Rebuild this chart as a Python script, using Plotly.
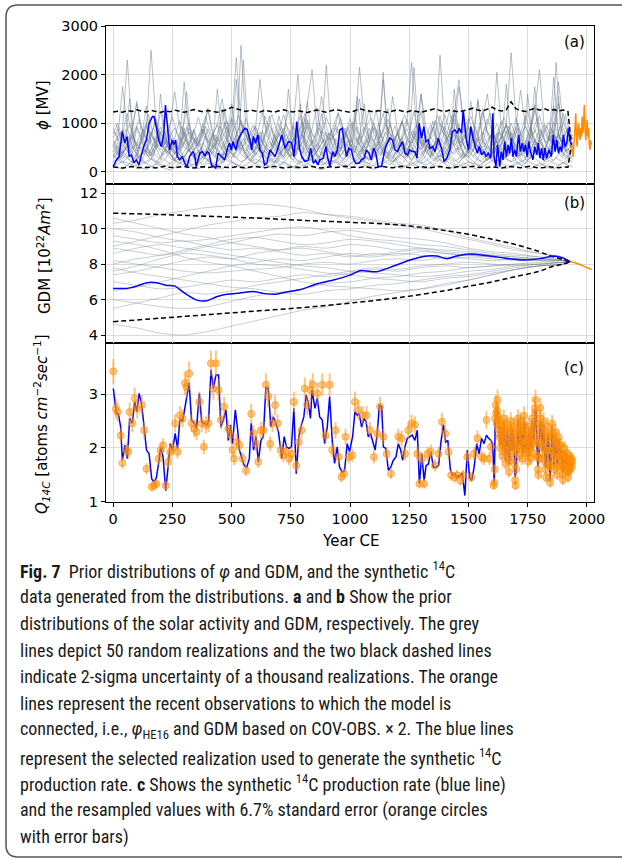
import plotly.graph_objects as go

# ---------------- data ----------------
TICK_YEARS = [0, 250, 500, 750, 1000, 1250, 1500, 1750, 2000]
GRID_STEP_A = 20          # year step of grey realizations in panel (a)
GRID_OFFSET_A2 = 10       # second group of grey realizations starts 10 years later

# panel (a): selected realization (blue)
A_BLUE_YEAR = [0, 14, 25, 39, 49, 59, 68, 77, 88, 98, 109, 119, 129, 141, 152, 166, 173, 183, 194, 204,
               214, 221, 229, 239, 249, 256, 264, 271, 281, 292, 302, 312, 323, 337, 344, 351, 366, 377,
               387, 397, 405, 415, 433, 443, 457, 471, 485, 492, 499, 506, 518, 528, 542, 556, 566, 578,
               585, 592, 602, 611, 620, 630, 639, 649, 662, 684, 698, 712, 726, 740, 754, 764, 775, 787,
               796, 810, 824, 834, 845, 855, 864, 873, 887, 898, 905, 915, 926, 936, 947, 957, 967, 978,
               985, 995, 1006, 1016, 1024, 1038, 1048, 1060, 1069, 1080, 1090, 1100, 1109, 1119, 1133,
               1147, 1157, 1168, 1179, 1190, 1201, 1210, 1222, 1232, 1243, 1252, 1263, 1274, 1283, 1292,
               1302, 1312, 1320, 1330, 1338, 1349, 1359, 1373, 1388, 1397, 1409, 1423, 1432, 1443, 1453,
               1461, 1471, 1478, 1490, 1500, 1510, 1518, 1528, 1538, 1546, 1556, 1566, 1574, 1584, 1594,
               1603, 1608, 1616, 1623, 1632, 1639, 1646, 1653, 1660, 1667, 1674, 1681, 1688, 1695, 1702,
               1712, 1719, 1727, 1734, 1741, 1748, 1755, 1762, 1772, 1780, 1788, 1795, 1802, 1809, 1816,
               1823, 1830, 1840, 1850, 1858, 1866, 1873, 1880, 1887, 1894, 1901, 1908, 1915, 1922, 1929, 1936]
A_BLUE_VAL = [109, 246, 314, 828, 595, 725, 314, 350, 185, 246, 144, 314, 520, 657, 1000, 1136, 1136, 897, 622, 520,
              794, 1376, 930, 452, 657, 560, 657, 314, 246, 314, 185, 109, 314, 417, 340, 109, 383, 417,
              330, 417, 383, 144, 75, 383, 314, 246, 520, 590, 450, 622, 450, 657, 794, 897, 870, 657,
              452, 725, 590, 760, 452, 383, 144, 180, 452, 314, 520, 760, 486, 622, 600, 314, 1034, 486,
              314, 212, 240, 486, 178, 240, 144, 246, 280, 520, 314, 109, 417, 314, 452, 862, 897, 520,
              314, 486, 452, 246, 178, 178, 246, 280, 452, 383, 246, 486, 383, 109, 109,
              452, 590, 692, 657, 452, 417, 520, 622, 383, 350, 452, 417, 417, 280, 1000,
              692, 931, 622, 657, 486, 520, 417, 692, 452, 212, 280, 486, 828, 862, 794,
              897, 794, 1273, 692, 452, 931, 725, 520, 383, 520, 350, 417, 314, 383, 280,
              1205, 314, 109, 554, 109, 417, 246, 622, 314, 554, 383, 692, 314, 452, 314,
              760, 417, 590, 417, 554, 314, 622, 417, 246, 520, 350, 590, 280, 486, 246,
              486, 280, 452, 314, 760, 417, 657, 383, 520, 417, 760, 520, 590, 897, 622, 554]

# panel (a): recent observations (orange)
A_OBS_YEAR = [1936, 1939, 1942, 1946, 1950, 1953, 1956, 1959, 1962, 1965, 1968, 1971, 1974, 1977,
              1980, 1983, 1986, 1989, 1992, 1995, 1998, 2001, 2004, 2007, 2010, 2013, 2016, 2019]
A_OBS_VAL = [554, 420, 314, 600, 900, 1205, 700, 520, 860, 1000, 760, 657, 900, 725,
             1136, 800, 1000, 1376, 900, 657, 850, 1068, 720, 900, 560, 452, 650, 560]

# panel (a): 2-sigma envelope (20-yr steps, then the connection year)
A_ENV_END_YEAR = 1935
A_ENV_END_VAL = 554
A_UPPER = [1230, 1245, 1225, 1260, 1240, 1275, 1250, 1230, 1265, 1240, 1220, 1255, 1235, 1270,
           1245, 1225, 1250, 1280, 1255, 1235, 1260, 1240, 1225, 1250, 1275, 1330, 1300, 1260,
           1240, 1270, 1250, 1230, 1265, 1245, 1225, 1255, 1275, 1250, 1230, 1260, 1240, 1220,
           1250, 1270, 1245, 1225, 1255, 1280, 1260, 1240, 1225, 1255, 1300, 1270, 1245, 1230,
           1260, 1240, 1220, 1250, 1275, 1250, 1230, 1265, 1245, 1225, 1250, 1280, 1300, 1260,
           1240, 1270, 1250, 1230, 1255, 1280, 1310, 1270, 1250, 1290, 1330, 1270, 1250, 1280,
           1440, 1300, 1260, 1240, 1280, 1310, 1270, 1300, 1260, 1280, 1250, 1270, 1240]
A_LOWER = [100, 90, 80, 95, 110, 85, 90, 105, 95, 80, 100, 115, 95, 85,
           100, 110, 90, 80, 95, 105, 90, 100, 115, 95, 85, 90, 105, 95,
           80, 100, 110, 95, 85, 100, 115, 95, 80, 90, 105, 95, 85, 100,
           110, 90, 80, 95, 105, 90, 100, 115, 95, 85, 90, 105, 95, 80,
           100, 110, 95, 85, 100, 115, 95, 80, 90, 105, 95, 85, 100, 110,
           90, 80, 95, 105, 90, 100, 115, 95, 85, 90, 105, 95, 80, 100,
           110, 95, 85, 100, 115, 95, 80, 90, 105, 95, 85, 100, 95]

# panel (a): grey random realizations, group 1 (years 0, 20, 40, ...)
A_GREY_1 = [420, 610, 380, 520, 900, 1450, 760, 540, 330, 480, 620, 710, 390, 260,
            350, 580, 820, 640, 410, 300, 520, 760, 980, 620, 450, 380, 290, 440,
            700, 560, 340, 480, 1150, 830, 520, 400, 310, 460, 690, 540, 380, 620,
            880, 1320, 720, 480, 350, 420, 610, 790, 560, 370, 280, 490, 720, 930,
            640, 450, 330, 560, 810, 1050, 700, 480, 360, 520, 740, 610, 420, 300,
            460, 680, 1240, 880, 540, 390, 470, 650, 820, 560, 380, 510, 730, 960,
            620, 430, 350, 580, 870, 1380, 760, 500, 420, 610, 790, 540, 430, 600]
A_GREY_2 = [210, 260, 340, 280, 190, 240, 380, 450, 320, 230, 180, 260, 410, 530,
            360, 250, 200, 290, 430, 350, 240, 170, 220, 330, 470, 390, 280, 210,
            260, 380, 520, 440, 300, 220, 180, 250, 360, 480, 340, 230, 190, 270,
            400, 560, 420, 290, 210, 240, 350, 470, 380, 260, 190, 230, 340, 450,
            580, 410, 280, 210, 260, 390, 500, 360, 250, 180, 220, 310, 440, 590,
            430, 300, 220, 270, 380, 460, 330, 240, 200, 290, 420, 540, 370, 260,
            210, 250, 360, 490, 640, 450, 310, 230, 280, 400, 520, 380, 270, 330]
A_GREY_3 = [500, 720, 1750, 900, 560, 430, 620, 880, 2500, 1100, 640, 480, 700, 560,
            450, 620, 900, 700, 520, 760, 1300, 820, 600, 470, 650, 920, 2350, 1000,
            600, 460, 640, 820, 600, 500, 700, 1150, 760, 560, 450, 620, 860, 1400,
            2100, 900, 600, 480, 680, 900, 650, 520, 740, 1050, 1500, 780, 560, 460,
            640, 880, 1300, 740, 540, 700, 980, 2250, 960, 620, 500, 720, 1050, 700,
            560, 780, 1200, 1900, 880, 620, 520, 740, 1100, 1600, 820, 600, 720, 1000,
            2450, 1150, 680, 540, 780, 1250, 2100, 900, 640, 800, 1400, 880, 660, 760]
A_GREY_4 = [650, 480, 370, 520, 760, 580, 430, 330, 460, 680, 920, 700, 520, 390,
            300, 420, 610, 850, 640, 470, 350, 480, 720, 560, 410, 520, 780, 1020,
            740, 530, 390, 300, 430, 620, 480, 360, 500, 740, 960, 690, 500, 380,
            290, 410, 580, 820, 600, 440, 330, 470, 680, 540, 400, 520, 770, 1000,
            720, 520, 380, 300, 440, 640, 890, 650, 470, 350, 490, 710, 560, 420,
            540, 800, 1080, 760, 540, 400, 310, 450, 660, 500, 380, 520, 760, 980,
            700, 510, 380, 290, 430, 630, 880, 640, 460, 560, 740, 520, 400, 480]
A_GREY_5 = [120, 160, 220, 180, 140, 110, 150, 210, 280, 200, 150, 120, 170, 240,
            190, 140, 110, 160, 230, 310, 220, 160, 130, 180, 250, 200, 150, 110,
            140, 200, 270, 210, 160, 120, 170, 230, 180, 130, 110, 150, 220, 300,
            230, 170, 130, 180, 240, 190, 140, 100, 150, 210, 280, 210, 160, 120,
            170, 230, 320, 240, 170, 130, 110, 160, 220, 180, 140, 190, 260, 340,
            250, 180, 130, 110, 150, 210, 170, 130, 180, 250, 330, 240, 170, 130,
            110, 150, 200, 270, 200, 150, 120, 170, 240, 180, 140, 190, 250, 200]
A_GREY_6 = [560, 700, 860, 640, 480, 600, 780, 1000, 760, 580, 450, 590, 740, 900,
            680, 520, 420, 560, 720, 880, 660, 500, 620, 800, 1040, 780, 590, 460,
            600, 760, 940, 700, 530, 430, 570, 730, 900, 680, 520, 640, 820, 1060,
            790, 600, 470, 610, 780, 960, 720, 540, 440, 580, 740, 910, 690, 530,
            650, 830, 1080, 800, 610, 480, 620, 790, 970, 730, 550, 450, 590, 750,
            920, 700, 540, 660, 840, 1100, 810, 620, 490, 630, 800, 980, 740, 560,
            460, 600, 760, 930, 710, 550, 670, 850, 1020, 760, 580, 700, 880, 650]
A_GREY_7 = [300, 540, 260, 410, 720, 350, 190, 460, 830, 520, 280, 640, 380, 220,
            510, 900, 470, 310, 250, 600, 420, 780, 340, 230, 560, 1080, 620, 360,
            280, 470, 690, 390, 210, 350, 760, 450, 300, 580, 940, 510, 270, 420,
            650, 330, 200, 480, 860, 540, 310, 260, 590, 400, 730, 350, 240, 520,
            990, 580, 330, 270, 460, 700, 380, 220, 410, 820, 490, 290, 610, 380,
            250, 540, 1200, 640, 370, 290, 450, 680, 400, 230, 370, 790, 470, 300,
            560, 920, 500, 280, 430, 660, 350, 210, 500, 870, 520, 320, 600, 440]
A_GREY_8 = [900, 640, 820, 1200, 760, 540, 700, 960, 620, 480, 780, 1150, 860, 600,
            460, 720, 1000, 700, 540, 880, 1300, 780, 560, 680, 920, 640, 500, 760,
            1100, 820, 580, 450, 690, 980, 730, 560, 840, 1250, 800, 590, 700, 940,
            660, 510, 770, 1120, 840, 600, 470, 700, 990, 720, 550, 860, 1280, 790,
            580, 690, 930, 650, 500, 760, 1080, 810, 590, 460, 680, 970, 720, 540,
            850, 1260, 780, 570, 680, 920, 640, 500, 750, 1090, 820, 590, 700, 950,
            680, 520, 790, 1150, 850, 610, 720, 980, 700, 540, 820, 1200, 760, 580]
A_GREY_9 = [380, 250, 180, 300, 520, 340, 220, 160, 260, 480, 1600, 700, 380, 240,
            170, 290, 460, 320, 210, 150, 240, 420, 300, 200, 330, 560, 1900, 620,
            340, 220, 160, 270, 440, 310, 200, 280, 500, 350, 230, 170, 300, 1450,
            560, 320, 210, 150, 250, 430, 300, 200, 330, 540, 360, 230, 160, 280,
            480, 2050, 640, 350, 220, 170, 290, 460, 310, 210, 340, 570, 380, 240,
            170, 300, 1700, 600, 330, 210, 160, 280, 470, 320, 220, 350, 590, 1800,
            620, 340, 220, 170, 300, 490, 330, 220, 360, 600, 1550, 540, 320, 260]
A_GREY_10 = [700, 880, 560, 420, 610, 940, 700, 500, 380, 560, 830, 620, 460, 700,
             1050, 760, 540, 410, 600, 880, 640, 470, 350, 520, 780, 1120, 820, 580,
             430, 640, 930, 680, 490, 370, 540, 800, 590, 440, 670, 990, 720, 520,
             390, 570, 840, 610, 450, 340, 500, 760, 1100, 800, 570, 420, 620, 900,
             650, 480, 360, 530, 790, 580, 430, 650, 960, 700, 510, 380, 560, 820,
             1180, 850, 600, 450, 660, 950, 690, 500, 370, 550, 810, 600, 440, 670,
             1000, 730, 530, 400, 580, 860, 620, 460, 700, 1020, 740, 540, 640, 760]
A_GREY_11 = [150, 90, 60, 130, 210, 140, 80, 50, 100, 170, 120, 70, 40, 90,
             160, 230, 150, 90, 60, 110, 180, 130, 80, 50, 120, 200, 140, 90,
             60, 100, 170, 250, 160, 100, 70, 130, 210, 150, 90, 60, 110, 180,
             120, 70, 40, 90, 160, 220, 150, 90, 60, 120, 190, 130, 80, 50,
             100, 170, 240, 160, 100, 70, 130, 200, 140, 90, 60, 110, 180, 260,
             170, 100, 70, 120, 190, 140, 80, 50, 100, 170, 230, 150, 90, 60,
             120, 200, 140, 90, 60, 110, 180, 130, 80, 60, 120, 190, 140, 100]
A_GREY_12 = [450, 350, 700, 560, 380, 900, 640, 420, 330, 600, 1250, 780, 480, 370,
             540, 820, 600, 400, 310, 560, 880, 620, 430, 340, 680, 1400, 820, 500,
             380, 560, 790, 580, 410, 320, 600, 980, 660, 450, 350, 520, 760, 560,
             400, 700, 1200, 740, 480, 360, 550, 830, 600, 420, 330, 580, 900, 640,
             440, 350, 720, 1550, 860, 520, 390, 570, 810, 590, 420, 330, 610, 1000,
             680, 460, 360, 530, 780, 570, 410, 720, 1300, 780, 500, 380, 560, 850,
             610, 430, 340, 590, 920, 650, 450, 360, 740, 1350, 800, 520, 620, 700]
A_GREY_13 = [260, 420, 330, 580, 410, 290, 700, 1350, 520, 340, 250, 460, 380, 610,
             470, 300, 520, 880, 430, 270, 360, 540, 1700, 690, 380, 280, 450, 620,
             350, 230, 480, 760, 520, 340, 610, 400, 260, 390, 900, 2000, 720, 420,
             300, 500, 360, 250, 430, 680, 470, 320, 560, 1250, 560, 350, 270, 410,
             600, 390, 280, 470, 820, 460, 300, 380, 550, 1600, 640, 370, 260, 440,
             350, 520, 780, 430, 290, 360, 640, 1450, 620, 380, 300, 470, 350, 560,
             820, 450, 310, 420, 690, 1750, 700, 400, 290, 480, 620, 380, 300, 450]
A_GREY_14 = [780, 1000, 650, 540, 820, 1400, 900, 620, 760, 1050, 720, 580, 900, 1650,
             950, 680, 560, 800, 1120, 760, 600, 740, 980, 1500, 880, 640, 720, 1060,
             780, 560, 820, 1900, 1000, 700, 600, 850, 1180, 800, 620, 760, 1020, 720,
             580, 860, 1550, 920, 660, 780, 1100, 760, 600, 880, 2150, 1050, 720, 620,
             840, 1200, 820, 640, 760, 1000, 720, 590, 880, 1600, 940, 690, 800, 1150,
             780, 620, 900, 1750, 1000, 720, 640, 860, 1220, 830, 660, 780, 1050, 740,
             600, 900, 1680, 960, 700, 820, 1160, 800, 640, 920, 1850, 1020, 760, 820]
A_GREY_15 = [330, 240, 420, 300, 200, 350, 520, 380, 260, 190, 310, 470, 340, 230,
             400, 620, 430, 290, 210, 330, 500, 360, 250, 180, 290, 450, 680, 460,
             310, 220, 340, 510, 370, 260, 200, 320, 480, 350, 240, 420, 640, 440,
             300, 210, 330, 500, 360, 250, 190, 300, 460, 700, 470, 320, 230, 350,
             520, 380, 270, 200, 320, 490, 360, 250, 410, 630, 430, 300, 220, 340,
             510, 370, 260, 190, 310, 470, 720, 480, 330, 240, 360, 530, 390, 270,
             210, 330, 500, 370, 260, 430, 650, 450, 310, 230, 350, 520, 380, 300]
A_GREY_16 = [560, 380, 900, 2300, 850, 480, 620, 400, 720, 1100, 600, 420, 760, 380,
             540, 1850, 760, 450, 600, 980, 520, 380, 700, 1300, 640, 430, 560, 2600,
             900, 500, 640, 420, 780, 1150, 620, 440, 580, 1700, 720, 460, 620, 1000,
             560, 400, 740, 2200, 820, 480, 600, 900, 540, 400, 700, 1400, 660, 440,
             580, 1900, 780, 470, 620, 1050, 580, 410, 740, 1250, 640, 450, 600, 2400,
             860, 500, 640, 980, 560, 420, 720, 1500, 680, 460, 600, 2050, 800, 480,
             620, 1100, 600, 430, 760, 1350, 660, 460, 620, 1950, 780, 500, 640, 700]

# panel (a): grey random realizations, group 2 (years 10, 30, 50, ...)
A_GREY_17 = [480, 300, 650, 420, 260, 540, 880, 460, 320, 720, 510, 350, 240, 580,
             940, 600, 380, 270, 490, 760, 420, 300, 620, 1020, 560, 360, 450, 690,
             400, 280, 530, 850, 500, 330, 260, 470, 780, 540, 350, 640, 1100, 620,
             390, 290, 510, 800, 480, 320, 560, 920, 580, 370, 270, 450, 730, 470,
             330, 600, 990, 560, 360, 280, 500, 840, 510, 340, 620, 1050, 600, 380,
             290, 470, 760, 460, 320, 580, 930, 550, 360, 260, 480, 820, 500, 340,
             640, 1000, 590, 380, 300, 520, 860, 520, 350, 610, 960, 560, 400]
A_GREY_18 = [180, 260, 150, 110, 210, 330, 220, 140, 100, 190, 280, 200, 130, 240,
             360, 250, 160, 110, 200, 300, 210, 140, 260, 390, 270, 170, 120, 220,
             320, 230, 150, 100, 180, 280, 200, 130, 250, 370, 260, 170, 120, 210,
             310, 220, 150, 270, 400, 280, 180, 120, 200, 300, 220, 140, 100, 190,
             290, 210, 140, 260, 380, 270, 170, 120, 220, 330, 230, 150, 110, 200,
             300, 210, 140, 250, 370, 260, 170, 120, 210, 310, 220, 150, 280, 410,
             290, 180, 130, 230, 340, 240, 160, 110, 200, 300, 220, 160, 240]
A_GREY_19 = [820, 560, 700, 1000, 640, 480, 760, 1180, 720, 520, 640, 900, 600, 460,
             780, 1250, 760, 540, 660, 940, 620, 470, 800, 1300, 780, 560, 680, 960,
             640, 490, 820, 1220, 740, 540, 660, 920, 610, 460, 780, 1150, 720, 520,
             640, 900, 600, 450, 760, 1200, 740, 530, 650, 930, 620, 470, 800, 1280,
             770, 550, 670, 950, 630, 480, 810, 1240, 750, 540, 660, 920, 610, 460,
             780, 1160, 720, 520, 640, 910, 600, 450, 770, 1210, 740, 530, 650, 940,
             620, 470, 790, 1260, 760, 550, 670, 960, 640, 490, 820, 1180, 720]
A_GREY_20 = [400, 260, 520, 1500, 620, 340, 460, 300, 580, 880, 700, 380, 500, 320,
             600, 1650, 660, 360, 480, 310, 560, 760, 600, 350, 470, 300, 540, 2300,
             760, 400, 520, 330, 610, 900, 680, 370, 490, 310, 570, 1400, 620, 350,
             470, 300, 550, 780, 720, 390, 510, 320, 590, 1550, 650, 360, 480, 310,
             560, 820, 610, 350, 470, 300, 540, 2150, 740, 400, 520, 330, 600, 950,
             670, 370, 490, 310, 570, 1450, 630, 360, 480, 300, 550, 800, 710, 390,
             500, 320, 580, 1600, 660, 360, 480, 310, 560, 2250, 750, 420, 520]
A_GREY_21 = [520, 380, 450, 640, 430, 300, 390, 560, 720, 480, 340, 420, 600, 410,
             290, 370, 540, 700, 470, 330, 410, 590, 400, 280, 360, 530, 690, 460,
             320, 400, 580, 390, 270, 350, 520, 680, 450, 310, 390, 570, 380, 260,
             340, 510, 670, 440, 300, 380, 560, 370, 250, 330, 500, 660, 430, 290,
             370, 550, 360, 240, 320, 490, 650, 420, 280, 360, 540, 350, 230, 310,
             480, 640, 410, 270, 350, 530, 340, 220, 300, 470, 630, 400, 260, 340,
             520, 330, 210, 290, 460, 620, 390, 250, 330, 510, 320, 260, 380]
A_GREY_22 = [1000, 760, 880, 640, 820, 1080, 780, 600, 900, 700, 560, 840, 1120, 800,
             620, 920, 720, 580, 860, 1140, 820, 640, 940, 740, 600, 880, 1160, 840,
             660, 960, 760, 620, 900, 1180, 860, 680, 980, 780, 640, 920, 1200, 880,
             700, 1000, 800, 660, 940, 1220, 900, 720, 1020, 820, 680, 960, 1100, 860,
             700, 980, 780, 640, 920, 1180, 860, 680, 960, 760, 620, 900, 1160, 840,
             660, 940, 740, 600, 880, 1140, 820, 640, 920, 720, 580, 860, 1120, 800,
             620, 900, 700, 560, 840, 1100, 780, 600, 880, 680, 540, 820, 1000]

# panel (b): GDM
B_GREY_YEAR = [0, 100, 200, 300, 400, 500, 600, 700, 800, 900, 1000, 1100, 1200, 1300, 1400,
               1500, 1600, 1700, 1800, 1900, 1930]
B_GREY_1 = [10.3, 10.5, 10.8, 11.0, 11.2, 11.3, 11.4, 11.3, 11.1, 10.8, 10.6, 10.4, 10.2, 10.0, 9.7, 9.4, 9.1, 8.8, 8.6, 8.4, 8.14]
B_GREY_2 = [9.6, 9.4, 9.2, 9.3, 9.0, 8.8, 8.9, 8.7, 8.5, 8.6, 8.4, 8.6, 8.5, 8.7, 8.6, 8.5, 8.4, 8.3, 8.3, 8.2, 8.14]
B_GREY_3 = [8.2, 8.0, 7.8, 7.6, 7.5, 7.6, 7.7, 7.8, 8.0, 8.1, 8.0, 8.2, 8.3, 8.2, 8.4, 8.3, 8.2, 8.3, 8.2, 8.2, 8.14]
B_GREY_4 = [6.0, 5.8, 5.6, 5.5, 5.6, 5.9, 6.2, 6.4, 6.6, 6.9, 7.0, 7.2, 7.3, 7.5, 7.6, 7.8, 7.9, 8.0, 8.0, 8.1, 8.14]
B_GREY_5 = [4.6, 4.4, 4.1, 4.0, 4.2, 4.5, 4.8, 5.1, 5.4, 5.6, 5.9, 6.2, 6.4, 6.6, 6.9, 7.1, 7.4, 7.7, 7.9, 8.0, 8.14]
B_GREY_6 = [7.4, 7.6, 7.9, 8.2, 8.4, 8.3, 8.6, 8.8, 9.0, 8.9, 9.1, 9.0, 8.8, 8.9, 8.7, 8.6, 8.5, 8.4, 8.3, 8.2, 8.14]
B_GREY_7 = [9.0, 9.3, 9.6, 9.9, 10.2, 10.4, 10.6, 10.7, 10.9, 10.8, 10.7, 10.5, 10.3, 10.2, 9.9, 9.5, 9.2, 8.9, 8.6, 8.3, 8.14]
B_GREY_8 = [7.0, 6.8, 6.6, 6.7, 6.9, 7.1, 7.0, 7.2, 7.4, 7.3, 7.5, 7.7, 7.6, 7.8, 7.9, 7.8, 7.9, 8.0, 8.1, 8.1, 8.14]
B_GREY_9 = [8.6, 8.9, 9.1, 8.9, 8.7, 8.5, 8.3, 8.1, 7.9, 7.8, 7.6, 7.5, 7.4, 7.3, 7.4, 7.6, 7.7, 7.9, 8.0, 8.1, 8.14]
B_GREY_10 = [10.0, 9.8, 9.5, 9.3, 9.4, 9.6, 9.8, 10.0, 10.1, 9.9, 9.6, 9.4, 9.3, 9.1, 9.0, 8.8, 8.6, 8.5, 8.4, 8.2, 8.14]
B_GREY_11 = [5.5, 5.8, 6.1, 6.4, 6.3, 6.5, 6.8, 7.0, 7.2, 7.4, 7.6, 7.8, 7.7, 7.9, 8.0, 8.1, 8.0, 7.9, 8.0, 8.1, 8.14]
B_GREY_12 = [7.8, 7.5, 7.3, 7.1, 6.9, 6.7, 6.6, 6.4, 6.3, 6.5, 6.6, 6.8, 6.9, 7.1, 7.3, 7.4, 7.6, 7.8, 7.9, 8.0, 8.14]
B_GREY_13 = [8.9, 8.7, 8.5, 8.7, 9.0, 9.2, 9.5, 9.7, 9.6, 9.8, 9.9, 9.7, 9.5, 9.4, 9.2, 8.9, 8.7, 8.6, 8.4, 8.3, 8.14]
B_GREY_14 = [6.5, 6.7, 7.0, 7.3, 7.6, 7.9, 8.1, 8.3, 8.2, 8.4, 8.6, 8.5, 8.7, 8.8, 8.6, 8.5, 8.4, 8.3, 8.2, 8.2, 8.14]
B_GREY_15 = [10.6, 10.3, 10.0, 9.7, 9.5, 9.2, 9.0, 8.8, 8.9, 8.7, 8.5, 8.4, 8.6, 8.5, 8.3, 8.4, 8.3, 8.2, 8.2, 8.1, 8.14]
B_GREY_16 = [7.6, 7.9, 8.3, 8.6, 8.5, 8.3, 8.0, 7.9, 7.7, 7.5, 7.4, 7.2, 7.1, 7.0, 7.2, 7.3, 7.5, 7.7, 7.9, 8.0, 8.14]
B_GREY_17 = [9.3, 9.1, 8.8, 8.4, 8.1, 7.9, 7.6, 7.3, 7.0, 6.8, 6.7, 6.6, 6.5, 6.6, 6.8, 7.1, 7.4, 7.7, 7.9, 8.0, 8.14]
B_GREY_18 = [8.0, 8.3, 8.5, 8.8, 9.1, 9.4, 9.5, 9.3, 9.1, 9.2, 9.4, 9.3, 9.1, 8.9, 8.8, 8.7, 8.5, 8.4, 8.3, 8.2, 8.14]

B_ENV_YEAR = [0, 200, 400, 600, 800, 1000, 1200, 1400, 1500, 1600, 1700, 1800, 1850, 1900, 1930]
B_UPPER = [10.87, 10.8, 10.7, 10.6, 10.47, 10.36, 10.22, 9.9, 9.68, 9.4, 9.1, 8.7, 8.45, 8.25, 8.14]
B_LOWER = [4.75, 4.95, 5.15, 5.35, 5.55, 5.8, 6.1, 6.5, 6.75, 7.0, 7.3, 7.6, 7.85, 8.0, 8.14]

B_BLUE_YEAR = [0, 58, 100, 142, 184, 226, 261, 303, 353, 395, 437, 479, 535, 591, 633, 690, 732, 788,
               859, 930, 1000, 1043, 1113, 1184, 1254, 1324, 1366, 1409, 1451, 1507, 1563, 1634, 1690,
               1733, 1803, 1859, 1901, 1930]
B_BLUE_VAL = [6.63, 6.63, 6.76, 6.95, 6.95, 6.8, 6.76, 6.35, 5.97, 5.93, 6.16, 6.3, 6.37, 6.46, 6.35, 6.3,
              6.43, 6.55, 6.88, 7.1, 7.38, 7.63, 7.57, 7.89, 8.23, 8.46, 8.46, 8.31, 8.46, 8.57, 8.5,
              8.38, 8.27, 8.23, 8.31, 8.46, 8.34, 8.14]
B_OBS_YEAR = [1930, 1950, 1970, 1990, 2010, 2020]
B_OBS_VAL = [8.14, 8.08, 7.98, 7.86, 7.75, 7.70]

# panel (c): synthetic 14C production rate
C_BLUE_YEAR = [1, 9, 14, 22, 32, 39, 50, 60, 70, 81, 91, 100, 110, 121, 131, 141, 152, 163, 173, 183,
               194, 201, 211, 222, 232, 241, 251, 262, 272, 282, 293, 303, 310, 321, 331, 343, 352, 364,
               374, 385, 395, 403, 413, 423, 434, 445, 455, 465, 476, 486, 496, 504, 516, 526, 533, 542,
               554, 564, 575, 583, 593, 603, 613, 624, 634, 645, 655, 666, 676, 687, 698, 712, 722, 732,
               742, 753, 763, 773, 784, 795, 805, 815, 823, 833, 840, 852, 862, 872, 883, 893, 904, 914,
               925, 935, 946, 956, 967, 977, 988, 998, 1011, 1021, 1031, 1039, 1049, 1059, 1068, 1077,
               1087, 1096, 1106, 1115, 1124, 1134, 1141, 1151, 1162, 1172, 1183, 1194, 1204, 1214, 1222,
               1232, 1242, 1253, 1263, 1274, 1284, 1293, 1303, 1313, 1321, 1331, 1341, 1352, 1362, 1374,
               1383, 1394, 1404, 1413, 1424, 1434, 1443, 1452, 1462, 1474, 1485, 1495, 1505, 1514, 1524,
               1535, 1545, 1555, 1566, 1576, 1585, 1595, 1602, 1606]
C_BLUE_VAL = [3.11, 2.83, 2.64, 2.64, 2.39, 1.77, 2.05, 1.8, 2.55, 2.46, 2.86, 2.68, 3.02, 2.8, 2.39, 1.96,
              1.89, 1.42, 1.36, 1.45, 1.77, 2.02, 1.83, 1.2, 1.64, 2.08, 1.96, 2.27, 1.99, 2.55, 2.49, 2.77,
              2.89, 3.21, 2.52, 2.46, 2.36, 3.02, 2.49, 2.46, 2.43, 2.49, 3.46, 3.11, 3.36, 3.36, 2.39,
              2.52, 2.71, 2.14, 2.43, 2.08, 2.71, 2.33, 1.96, 1.83, 1.67, 1.64, 1.8, 2.46, 1.96, 2.21,
              1.74, 2.14, 2.21, 3.14, 3.11, 2.39, 2.58, 2.46, 2.3, 1.8, 2.21, 2.02, 1.99, 2.02, 2.74,
              1.52, 2.21, 2.43, 2.58, 2.99, 2.86, 2.55, 3.08, 2.74, 2.93, 2.58, 2.52, 2.08, 2.39, 2.96,
              2.14, 1.71, 2.02, 1.64, 1.55, 1.57, 2.08, 1.93, 2.21, 2.68, 2.61, 2.64, 2.39, 2.55, 2.49,
              2.21, 2.27, 2.12, 1.96, 2.27, 2.8, 2.77, 2.02, 1.99, 1.58, 1.64, 1.77, 1.83, 2.08, 1.96,
              1.77, 2.02, 2.18, 2.21, 2.24, 2.14, 2.33, 1.33, 1.89, 1.39, 1.67, 1.7, 1.93, 1.64, 1.64,
              1.67, 2.08, 2.43, 2.11, 2.14, 1.58, 1.49, 1.52, 1.45, 1.48, 1.52, 1.11, 1.96, 1.45, 1.39,
              1.64, 2.08, 1.89, 2.18, 2.08, 2.24, 2.18, 2.14, 2.08, 1.39]
C_OBS_YEAR = [1, 12, 19, 32, 39, 56, 64, 70, 81, 91, 102, 121, 131, 141, 163, 173, 183, 192, 201, 211,
              222, 232, 241, 251, 262, 272, 282, 293, 303, 310, 321, 331, 343, 352, 364, 374, 383, 392,
              403, 413, 423, 434, 445, 455, 469, 486, 496, 504, 511, 522, 533, 547, 561, 583, 593, 603,
              613, 624, 634, 645, 655, 663, 673, 684, 694, 708, 718, 729, 743, 754, 763, 773, 784, 795,
              809, 819, 833, 843, 862, 883, 897, 914, 925, 939, 953, 964, 974, 981, 995, 1010, 1021,
              1035, 1053, 1070, 1084, 1101, 1115, 1127, 1141, 1155, 1173, 1204, 1218, 1232, 1246, 1260,
              1274, 1284, 1293, 1303, 1313, 1327, 1341, 1359, 1374, 1388, 1402, 1416, 1427, 1441, 1452,
              1466, 1477, 1495, 1512, 1524, 1538, 1555, 1566, 1576, 1588, 1595, 1606]
C_OBS_VAL = [3.43, 2.73, 2.67, 2.23, 1.72, 1.96, 1.93, 2.67, 2.46, 2.93, 2.73, 2.8, 2.33, 1.61, 1.27, 1.3,
             1.33, 1.8, 1.96, 2.05, 1.3, 1.74, 1.93, 1.99, 2.46, 1.93, 2.61, 2.55, 3.21, 3.14, 3.39, 2.46,
             2.36, 2.3, 2.86, 2.46, 2.02, 2.43, 2.46, 3.58, 3.11, 3.58, 3.08, 2.52, 2.77, 2.36, 2.24,
             1.96, 1.8, 2.11, 2.05, 1.8, 1.58, 2.64, 2.27, 2.08, 1.74, 2.33, 2.33, 3.18, 2.96, 2.08,
             2.46, 2.8, 2.46, 1.96, 1.86, 1.93, 1.8, 1.89, 2.86, 1.67, 2.11, 2.33, 3.11, 2.8, 3.08, 3.18,
             3.02, 3.18, 2.23, 3.18, 1.96, 2.33, 1.83, 1.46, 1.52, 2.21, 1.83, 1.86, 2.86, 2.71, 2.61,
             2.61, 2.33, 1.83, 2.27, 2.77, 2.21, 1.89, 1.52, 2.21, 2.18, 1.89, 2.33, 2.46, 2.43, 1.89,
             1.33, 1.8, 1.33, 1.89, 1.93, 1.67, 1.89, 2.49, 2.27, 1.93, 1.49, 1.45, 1.49, 1.39, 1.49,
             1.83, 1.45, 1.89, 2.18, 1.83, 1.8, 2.52, 1.8, 2.02, 1.3]

# panel (c): dense recent part (1609-1939)
C_DENSE_START = 1609
C_DENSE_BLUE_STEP = 4
C_DENSE_OBS_STEP = 2
C_DENSE_BLUE = [1.35, 2.50, 2.65, 2.75, 2.55, 2.45, 2.05,
                2.40, 2.15, 2.00, 2.50, 2.20, 1.75, 2.15,
                2.35, 1.85, 1.70, 2.25, 2.40, 1.95, 2.35,
                2.05, 1.45, 1.55, 2.15, 2.50, 2.10, 2.05,
                2.45, 2.10, 1.90, 2.40, 2.45, 1.95, 2.25,
                2.00, 1.85, 2.35, 2.05, 2.00, 2.50, 2.15,
                2.15, 2.70, 2.70, 2.10, 1.65, 1.75, 2.40,
                2.50, 2.10, 1.95, 2.45, 2.15, 1.65, 1.65,
                2.15, 2.25, 1.75, 1.40, 1.90, 2.40, 2.10,
                1.65, 2.05, 2.20, 1.70, 1.70, 2.15, 1.90,
                1.80, 1.95, 1.55, 1.60, 1.95, 1.70, 1.70,
                1.75, 1.50, 1.65, 1.80, 1.65, 1.70]
C_DENSE_OBS = [1.35, 1.60, 2.55, 2.80, 2.65, 2.45, 2.70, 2.90, 2.60, 2.35, 2.50, 2.20, 2.00, 2.25,
               2.45, 2.30, 2.10, 1.85, 2.05, 2.35, 2.55, 2.40, 2.15, 1.90, 1.70, 1.95, 2.20, 2.45,
               2.30, 2.05, 1.80, 1.55, 1.75, 2.00, 2.30, 2.50, 2.35, 2.10, 1.90, 2.15, 2.40, 2.25,
               2.00, 1.70, 1.40, 1.30, 1.60, 1.95, 2.20, 2.45, 2.55, 2.30, 2.05, 1.85, 2.10, 2.35,
               2.50, 2.30, 2.05, 1.80, 1.95, 2.20, 2.45, 2.60, 2.40, 2.15, 1.90, 2.10, 2.30, 2.15,
               1.95, 1.75, 1.90, 2.15, 2.40, 2.25, 2.00, 1.80, 2.05, 2.30, 2.55, 2.35, 2.10, 1.90,
               2.20, 2.50, 2.75, 2.90, 2.65, 2.40, 2.15, 1.85, 1.60, 1.50, 1.80, 2.10, 2.45, 2.75,
               2.55, 2.30, 2.05, 1.80, 2.00, 2.25, 2.50, 2.35, 2.10, 1.85, 1.60, 1.45, 1.70, 1.95,
               2.20, 2.40, 2.20, 1.95, 1.70, 1.45, 1.35, 1.65, 1.95, 2.25, 2.45, 2.30, 2.05, 1.80,
               1.60, 1.85, 2.10, 2.30, 2.15, 1.90, 1.65, 1.50, 1.75, 2.00, 2.20, 2.05, 1.85, 1.65,
               1.85, 2.05, 1.90, 1.70, 1.50, 1.40, 1.65, 1.85, 2.00, 1.85, 1.65, 1.55, 1.75, 1.90,
               1.80, 1.60, 1.45, 1.55, 1.70, 1.85, 1.75, 1.60, 1.70, 1.80, 1.65, 1.75]
OBS_ERR_PERCENT = 6.7

CAPTION_LINES = [
    "<b>Fig. 7</b>\u2002Prior distributions of <i>φ</i> and GDM, and the synthetic <sup>14</sup>C",
    "data generated from the distributions. <b>a</b> and <b>b</b> Show the prior",
    "distributions of the solar activity and GDM, respectively. The grey",
    "lines depict 50 random realizations and the two black dashed lines",
    "indicate 2-sigma uncertainty of a thousand realizations. The orange",
    "lines represent the recent observations to which the model is",
    "connected, i.e., <i>φ</i><sub>HE16</sub> and GDM based on COV-OBS. × 2. The blue lines",
    "represent the selected realization used to generate the synthetic <sup>14</sup>C",
    "production rate. <b>c</b> Shows the synthetic <sup>14</sup>C production rate (blue line)",
    "and the resampled values with 6.7% standard error (orange circles",
    "with error bars)",
]

# ---------------- figure ----------------
W, H = 622, 859
ML, MR, MT, MB = 106, 28, 26, 357
PW, PH = W - ML - MR, H - MT - MB


def px_x(p):
    return (p - ML) / PW


def px_y(p):
    return (H - MB - p) / PH


FONT = "DejaVu Sans"
GREY = "rgba(112,128,144,0.5)"
GREY_B = "rgba(112,128,144,0.38)"
BLUE = "#0000ff"
ORANGE = "#ff8c00"
ORANGE_A = "rgba(255,140,0,0.5)"
DASH = "5px,3px"

fig = go.Figure()

# panel (a) -> xaxis3 / yaxis3
for s in [A_GREY_1, A_GREY_2, A_GREY_3, A_GREY_4, A_GREY_5, A_GREY_6, A_GREY_7, A_GREY_8,
          A_GREY_9, A_GREY_10, A_GREY_11, A_GREY_12, A_GREY_13, A_GREY_14, A_GREY_15, A_GREY_16]:
    fig.add_trace(go.Scatter(x=[i * GRID_STEP_A for i in range(len(s))], y=s, mode="lines",
                             line=dict(color=GREY, width=1), xaxis="x3", yaxis="y3",
                             hoverinfo="skip"))
for s in [A_GREY_17, A_GREY_18, A_GREY_19, A_GREY_20, A_GREY_21, A_GREY_22]:
    fig.add_trace(go.Scatter(x=[GRID_OFFSET_A2 + i * GRID_STEP_A for i in range(len(s))], y=s,
                             mode="lines", line=dict(color=GREY, width=1), xaxis="x3", yaxis="y3",
                             hoverinfo="skip"))
for s in [A_UPPER, A_LOWER]:
    fig.add_trace(go.Scatter(x=[i * GRID_STEP_A for i in range(len(s))] + [A_ENV_END_YEAR],
                             y=s + [A_ENV_END_VAL], mode="lines",
                             line=dict(color="black", width=1.5, dash=DASH), xaxis="x3", yaxis="y3"))
fig.add_trace(go.Scatter(x=A_OBS_YEAR, y=A_OBS_VAL, mode="lines",
                         line=dict(color=ORANGE, width=1.5), xaxis="x3", yaxis="y3"))
fig.add_trace(go.Scatter(x=A_BLUE_YEAR, y=A_BLUE_VAL, mode="lines",
                         line=dict(color=BLUE, width=1.5), xaxis="x3", yaxis="y3"))

# panel (b) -> xaxis2 / yaxis2
for s in [B_GREY_1, B_GREY_2, B_GREY_3, B_GREY_4, B_GREY_5, B_GREY_6, B_GREY_7, B_GREY_8, B_GREY_9,
          B_GREY_10, B_GREY_11, B_GREY_12, B_GREY_13, B_GREY_14, B_GREY_15, B_GREY_16, B_GREY_17,
          B_GREY_18]:
    fig.add_trace(go.Scatter(x=B_GREY_YEAR, y=s, mode="lines",
                             line=dict(color=GREY_B, width=1, shape="spline", smoothing=0.8),
                             xaxis="x2", yaxis="y2"))
for s in [B_UPPER, B_LOWER]:
    fig.add_trace(go.Scatter(x=B_ENV_YEAR, y=s, mode="lines",
                             line=dict(color="black", width=1.5, dash=DASH, shape="spline"),
                             xaxis="x2", yaxis="y2"))
fig.add_trace(go.Scatter(x=B_OBS_YEAR, y=B_OBS_VAL, mode="lines",
                         line=dict(color=ORANGE, width=1.5, shape="spline"), xaxis="x2", yaxis="y2"))
fig.add_trace(go.Scatter(x=B_BLUE_YEAR, y=B_BLUE_VAL, mode="lines",
                         line=dict(color=BLUE, width=1.5, shape="spline", smoothing=0.6),
                         xaxis="x2", yaxis="y2"))

# panel (c) -> xaxis / yaxis
dense_blue_x = [C_DENSE_START + i * C_DENSE_BLUE_STEP for i in range(len(C_DENSE_BLUE))]
dense_obs_x = [C_DENSE_START + i * C_DENSE_OBS_STEP for i in range(len(C_DENSE_OBS))]
fig.add_trace(go.Scatter(x=C_BLUE_YEAR + dense_blue_x, y=C_BLUE_VAL + C_DENSE_BLUE, mode="lines",
                         line=dict(color=BLUE, width=1.5), xaxis="x", yaxis="y"))
fig.add_trace(go.Scatter(x=C_OBS_YEAR + dense_obs_x, y=C_OBS_VAL + C_DENSE_OBS, mode="markers",
                         marker=dict(size=7, color="rgba(255,140,0,0.45)",
                                     line=dict(color="rgba(255,140,0,0.6)", width=1)),
                         error_y=dict(type="percent", value=OBS_ERR_PERCENT, color=ORANGE_A,
                                      thickness=2, width=0),
                         xaxis="x", yaxis="y"))

XR = [-30, 2030]
frame = dict(showline=True, linecolor="black", linewidth=1, mirror=True, zeroline=False,
             showgrid=True, gridcolor="#dcdcdc", gridwidth=1)
tickfont = dict(family=FONT, size=14.5, color="black")

dc = [0, (H - MB - 343) / PH]
db = [dc[1], (H - MB - 184) / PH]
da = [db[1], 1]

fig.update_layout(
    width=W, height=H, margin=dict(l=ML, r=MR, t=MT, b=MB, pad=0),
    paper_bgcolor="white", plot_bgcolor="white", showlegend=False,
    font=dict(family=FONT, size=15, color="black"),
    xaxis=dict(range=XR, domain=[0, 1], anchor="y", tickvals=TICK_YEARS, ticks="outside",
               ticklen=4, tickcolor="black", tickfont=tickfont, **frame),
    xaxis2=dict(range=XR, domain=[0, 1], anchor="y2", tick0=0, dtick=250, showticklabels=False,
                matches="x", **frame),
    xaxis3=dict(range=XR, domain=[0, 1], anchor="y3", tick0=0, dtick=250, showticklabels=False,
                matches="x", **frame),
    yaxis=dict(range=[0.99, 3.96], domain=dc, anchor="x", tickvals=[1, 2, 3], ticks="outside",
               ticklen=4, tickcolor="black", tickfont=tickfont, **frame),
    yaxis2=dict(range=[3.55, 12.52], domain=db, anchor="x2", tickvals=[4, 6, 8, 10, 12],
                ticks="outside", ticklen=4, tickcolor="black", tickfont=tickfont, **frame),
    yaxis3=dict(range=[-250, 3000], domain=da, anchor="x3", tickvals=[0, 1000, 2000, 3000],
                ticks="outside", ticklen=4, tickcolor="black", tickfont=tickfont, **frame),
)

lab_font = dict(family=FONT, size=15, color="black")
ann = []
# axis titles
ann.append(dict(text="Year CE", x=0.5, y=px_y(541), xref="paper", yref="paper", showarrow=False,
                xanchor="center", yanchor="middle", font=lab_font))
ann.append(dict(text="<i>ϕ</i> [MV]", x=px_x(43), y=px_y(105), xref="paper", yref="paper",
                showarrow=False, textangle=-90, xanchor="center", yanchor="middle", font=lab_font))
ann.append(dict(text="GDM [10<sup>22</sup><i>Am</i><sup>2</sup>]", x=px_x(44), y=px_y(256),
                xref="paper", yref="paper", showarrow=False, textangle=-90, xanchor="center",
                yanchor="middle", font=lab_font))
ann.append(dict(text="<i>Q</i><sub><i>14C</i></sub> [atoms <i>cm</i><sup>−2</sup><i>sec</i><sup>−1</sup>]",
                x=px_x(41), y=px_y(424), xref="paper", yref="paper", showarrow=False, textangle=-90,
                xanchor="center", yanchor="middle", font=lab_font))
# panel letters
for lab, yy in [("(a)", 42), ("(b)", 203), ("(c)", 368)]:
    ann.append(dict(text=lab, x=px_x(574), y=px_y(yy), xref="paper", yref="paper", showarrow=False,
                    xanchor="center", yanchor="middle", font=lab_font))
# caption
cap_font = dict(family="Liberation Sans Narrow, Arial Narrow, Roboto Condensed, Roboto, sans-serif",
                size=18, color="#1a1a1a")
for i, line in enumerate(CAPTION_LINES):
    ann.append(dict(text=line, x=px_x(18), y=px_y(570 + i * 26.7), xref="paper", yref="paper",
                    showarrow=False, xanchor="left", yanchor="middle", align="left", font=cap_font))
fig.update_layout(annotations=ann)

# rounded frame around the figure
xl, xr_, yt, yb = px_x(6), px_x(640), px_y(5), px_y(857)
rx, ry = 12 / PW, 12 / PH
path = (f"M {xr_},{yt} L {xl + rx},{yt} Q {xl},{yt} {xl},{yt - ry} "
        f"L {xl},{yb + ry} Q {xl},{yb} {xl + rx},{yb} L {xr_},{yb}")
fig.add_shape(type="path", path=path, xref="paper", yref="paper",
              line=dict(color="#555555", width=1.5), layer="above")

fig.write_html("out.html")
